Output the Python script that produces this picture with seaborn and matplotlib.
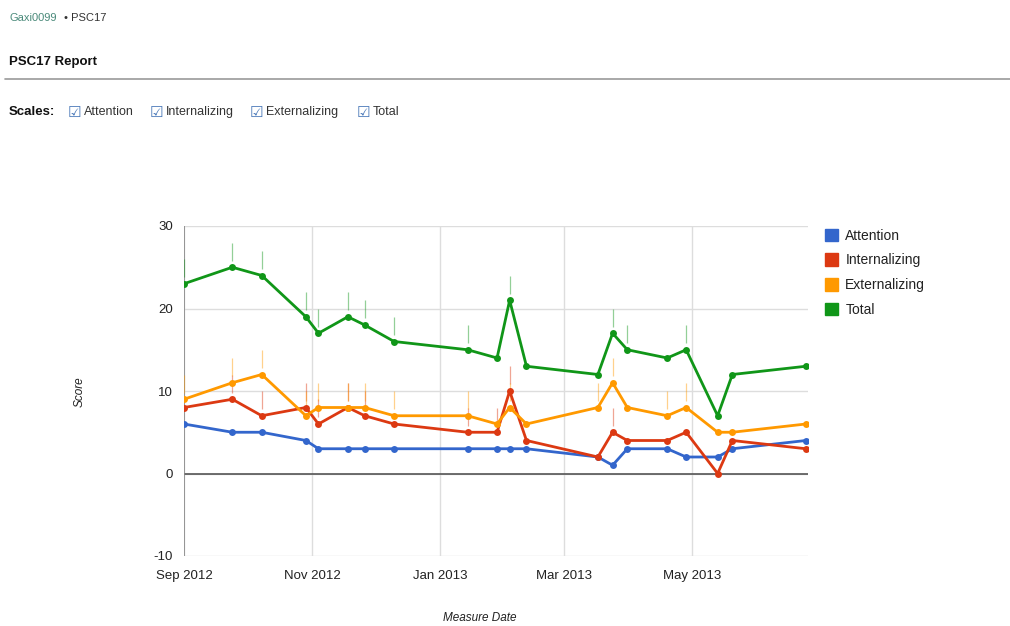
import matplotlib
matplotlib.use("Agg")
import matplotlib.pyplot as plt
import matplotlib.dates as mdates
from matplotlib.patches import Patch
from matplotlib.lines import Line2D
import seaborn as sns
import pandas as pd
import numpy as np

# ---- data ----
dates = ["2012-09-01", "2012-09-24", "2012-10-08", "2012-10-29", "2012-11-04",
         "2012-11-18", "2012-11-26", "2012-12-10", "2013-01-14", "2013-01-28",
         "2013-02-03", "2013-02-11", "2013-03-17", "2013-03-24", "2013-03-31",
         "2013-04-19", "2013-04-28", "2013-05-13", "2013-05-20", "2013-06-24"]
attention      = [6, 5, 5, 4, 3, 3, 3, 3, 3, 3, 3, 3, 2, 1, 3, 3, 2, 2, 3, 4]
internalizing  = [8, 9, 7, 8, 6, 8, 7, 6, 5, 5, 10, 4, 2, 5, 4, 4, 5, 0, 4, 3]
externalizing  = [9, 11, 12, 7, 8, 8, 8, 7, 7, 6, 8, 6, 8, 11, 8, 7, 8, 5, 5, 6]
total          = [23, 25, 24, 19, 17, 19, 18, 16, 15, 14, 21, 13, 12, 17, 15, 14, 15, 7, 12, 13]
series_names = ["Attention", "Internalizing", "Externalizing", "Total"]
colors = ["#3366cc", "#dc3912", "#ff9900", "#109618"]
# which points carry an annotation stem (1 = yes)
annot_int = [0, 1, 1, 1, 1, 1, 1, 0, 1, 1, 1, 0, 0, 1, 0, 0, 0, 0, 0, 0]
annot_ext = [1, 1, 1, 1, 1, 1, 1, 1, 1, 0, 1, 0, 1, 1, 0, 1, 1, 0, 0, 0]
annot_tot = [1, 1, 1, 1, 1, 1, 1, 1, 1, 0, 1, 0, 0, 1, 1, 0, 1, 0, 0, 0]
month_ticks = ["2012-09-01", "2012-11-01", "2013-01-01", "2013-03-01", "2013-05-01"]
y_ticks = [-10, 0, 10, 20, 30]

d = pd.to_datetime(dates)
df = pd.DataFrame({
    "date": np.tile(d, 4),
    "score": attention + internalizing + externalizing + total,
    "series": np.repeat(series_names, len(dates)),
})

sns.set_theme(style="white")
plt.rcParams["font.family"] = ["Liberation Sans", "DejaVu Sans"]
plt.rcParams["axes.unicode_minus"] = False

W, H = 1010, 626
fig = plt.figure(figsize=(W / 100, H / 100), dpi=100)
ax = fig.add_axes([184 / W, 1 - 556 / H, (808 - 184) / W, (556 - 226) / H])

def px(x, y):
    return x / W, 1 - y / H

# grid
for t in month_ticks:
    ax.axvline(pd.Timestamp(t), color="#dddddd", lw=1, zorder=0)
for yv in y_ticks:
    ax.axhline(yv, color="#dddddd", lw=1, zorder=0)
ax.axhline(0, color="#555555", lw=1.2, zorder=1)
ax.axvline(d[0], color="#888888", lw=1.2, zorder=1)

# annotation stems
for vals, ann, c in [(internalizing, annot_int, colors[1]),
                     (externalizing, annot_ext, colors[2]),
                     (total, annot_tot, colors[3])]:
    for dt, v, a in zip(d, vals, ann):
        if a:
            ax.vlines(dt, v + 0.8, v + 3.0, color=c, lw=0.9, alpha=0.45, zorder=1)

sns.lineplot(data=df, x="date", y="score", hue="series", hue_order=series_names,
             palette=colors, marker="o", markersize=5, markeredgewidth=0,
             linewidth=2, ax=ax, legend=False, zorder=3)

ax.set_xlim(d[0], d[-1] + pd.Timedelta(days=1))
ax.set_ylim(-10, 30)
ax.set_yticks(y_ticks)
ax.set_xticks(pd.to_datetime(month_ticks))
ax.xaxis.set_major_formatter(mdates.DateFormatter("%b %Y"))
ax.tick_params(axis="both", length=0, labelsize=9.5, colors="#222222", pad=8)
ax.tick_params(axis="x", pad=10)
for s in ax.spines.values():
    s.set_visible(False)
ax.set_xlabel("")
ax.set_ylabel("")
fig.text(*px(480, 618), "Measure Date", fontsize=8.5, style="italic", color="#222222",
         ha="center", va="center")
fig.text(*px(80, 392), "Score", fontsize=8.5, style="italic", color="#222222",
         ha="center", va="center", rotation=90)

# legend
handles = [Patch(facecolor=c, edgecolor=c) for c in colors]
fig.legend(handles, series_names, loc="upper left", bbox_to_anchor=px(812, 216),
           frameon=False, fontsize=10, handlelength=1.0, handleheight=1.0,
           handletextpad=0.5, labelspacing=0.78, labelcolor="#222222")

# header
fig.text(*px(10, 18), "Gaxi0099", fontsize=8, color="#4a8a7a", va="center")
fig.text(*px(64, 18), "• PSC17", fontsize=8, color="#333333", va="center")
fig.text(*px(9, 62), "PSC17 Report", fontsize=9.5, weight="bold", color="#111111", va="center")
fig.add_artist(Line2D([0.005, 1.0], [1 - 79 / H, 1 - 79 / H], color="#999999", lw=1.2))
fig.text(*px(9, 112), "Scales:", fontsize=9.5, weight="bold", color="#111111", va="center")
box_x = [68, 150, 250, 357]
for bx, name in zip(box_x, series_names):
    fig.text(*px(bx, 112), "☑", fontsize=11, color="#4a78b8", va="center",
             family=["DejaVu Sans"])
    fig.text(*px(bx + 16, 112), name, fontsize=9, color="#333333", va="center")

fig.savefig("out.png", dpi=100, facecolor="white")
